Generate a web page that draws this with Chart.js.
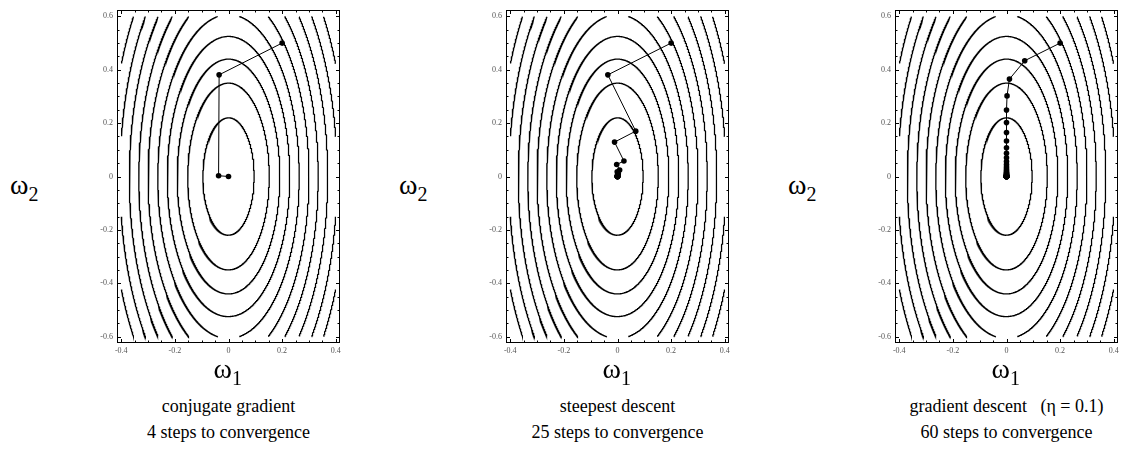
<!DOCTYPE html>
<html>
<head>
<meta charset="utf-8">
<script src="https://cdn.jsdelivr.net/npm/chart.js@4.4.1/dist/chart.umd.min.js"></script>
<style>
  body { margin: 0; width: 1145px; height: 459px; background: #fff; position: relative; overflow: hidden;
         font-family: "Liberation Serif", "Times New Roman", serif; color: #000; }
  .panel { position: absolute; top: 0; width: 283px; height: 370px; }
  .lbl { position: absolute; white-space: pre; line-height: 1; }
  .w { font-size: 28px; }
  .w sub { font-size: 20px; vertical-align: -7px; line-height: 0; }
  .cap { position: absolute; width: 320px; text-align: center; font-size: 18px; line-height: 26px; white-space: pre; }
</style>
</head>
<body>

<div class="panel" id="p0"><canvas id="c0"></canvas></div>
<div class="panel" id="p1"><canvas id="c1"></canvas></div>
<div class="panel" id="p2"><canvas id="c2"></canvas></div>

<script>
// contour lines of the error surface: value of w2 where each contour crosses w1 = 0
const contourLevels = [0.22, 0.35, 0.44, 0.525, 0.607, 0.69, 0.77, 0.851, 0.932, 1.012];
const contourAspect = 2.3;   // ratio of w2 to w1 semi-axis

const xTickValues = [-0.4, -0.2, 0, 0.2, 0.4];
const yTickValues = [-0.6, -0.4, -0.2, 0, 0.2, 0.4, 0.6];

// conjugate gradient
const cgW1 = [0.2, -0.035, -0.037, 0];
const cgW2 = [0.5, 0.381, 0.003, 0];

// steepest descent
const sdW1 = [0.2, -0.036, 0.068, -0.011, 0.024, -0.003, 0.008, -0.001, 0.003, 0, 0.001, 0, 0,
              0, 0, 0, 0, 0, 0, 0, 0, 0, 0, 0, 0, 0];
const sdW2 = [0.5, 0.381, 0.170, 0.129, 0.058, 0.045, 0.024, 0.018, 0.010, 0.007, 0.004, 0.003, 0.0015,
              0.001, 0.0006, 0.0004, 0.0002, 0.0002, 0.0001, 0.0001, 0, 0, 0, 0, 0, 0];

// gradient descent, eta = 0.1
const gdW1 = [0.2, 0.068, 0.011, 0.002, 0, 0, 0, 0, 0, 0, 0, 0, 0, 0, 0, 0, 0, 0, 0, 0,
              0, 0, 0, 0, 0, 0, 0, 0, 0, 0, 0, 0, 0, 0, 0, 0, 0, 0, 0, 0,
              0, 0, 0, 0, 0, 0, 0, 0, 0, 0, 0, 0, 0, 0, 0, 0, 0, 0, 0, 0, 0];
const gdW2 = [0.5, 0.434, 0.365, 0.302, 0.249, 0.202, 0.165, 0.133, 0.108, 0.087,
              0.070, 0.056, 0.045, 0.036, 0.029, 0.023, 0.018, 0.015, 0.012, 0.0095,
              0.0076, 0.006, 0.0049, 0.0039, 0.0031, 0.0025, 0.002, 0.0016, 0.0013, 0.001,
              0.0008, 0.0007, 0.0005, 0.0004, 0.0003, 0.0003, 0.0002, 0.0002, 0.0001, 0.0001,
              0.0001, 0, 0, 0, 0, 0, 0, 0, 0, 0, 0, 0, 0, 0, 0, 0, 0, 0, 0, 0, 0];

const panels = [
  { w1: cgW1, w2: cgW2, cap: 'conjugate gradient\n4 steps to convergence' },
  { w1: sdW1, w2: sdW2, cap: 'steepest descent\n25 steps to convergence' },
  { w1: gdW1, w2: gdW2, cap: 'gradient descent   (\u03b7 = 0.1)\n60 steps to convergence' }
];
const frameLefts = [117, 506, 895];

// contour of (aspect*w1)^2 + w2^2 = level^2, cut to the plotted region
function contour(level) {
  const pts = [];
  const n = 2400;
  for (let i = 0; i <= n; i++) {
    const t = i / n * 2 * Math.PI;
    const x = level / contourAspect * Math.cos(t);
    const y = level * Math.sin(t);
    if (Math.abs(x) > 0.4 || Math.abs(y) > 0.6) pts.push({ x: NaN, y: NaN });
    else pts.push({ x: x, y: y });
  }
  return pts;
}

const frameTicks = {
  id: 'frameTicks',
  afterDraw(chart) {
    const { ctx, chartArea: a, scales: { x, y } } = chart;
    ctx.save();
    ctx.strokeStyle = '#000';
    ctx.lineWidth = 1;
    ctx.strokeRect(a.left + 0.5, a.top + 0.5, a.right - a.left - 1, a.bottom - a.top - 1);
    ctx.beginPath();
    for (let k = -8; k <= 8; k++) {
      const px = Math.round(x.getPixelForValue(k * 0.05)) + 0.5;
      const len = k % 4 === 0 ? 4 : 2.5;
      ctx.moveTo(px, a.bottom); ctx.lineTo(px, a.bottom - len);
      ctx.moveTo(px, a.top); ctx.lineTo(px, a.top + len);
    }
    for (let k = -12; k <= 12; k++) {
      const py = Math.round(y.getPixelForValue(k * 0.05)) + 0.5;
      const len = k % 4 === 0 ? 4 : 2.5;
      ctx.moveTo(a.left, py); ctx.lineTo(a.left + len, py);
      ctx.moveTo(a.right, py); ctx.lineTo(a.right - len, py);
    }
    ctx.stroke();
    ctx.restore();
  }
};

const tickFont = { family: '"Liberation Serif", serif', size: 8 };
const fmt = v => v === 0 ? '0' : v.toFixed(1);

panels.forEach((p, i) => {
  const div = document.getElementById('p' + i);
  div.style.left = (frameLefts[i] - 30) + 'px';

  const datasets = [{
    data: p.w1.map((v, j) => ({ x: v, y: p.w2[j] })),
    showLine: true,
    borderColor: '#000',
    borderWidth: 1,
    pointRadius: 2.8,
    pointBackgroundColor: '#000',
    pointBorderWidth: 0
  }];
  contourLevels.forEach(l => datasets.push({
    data: contour(l),
    showLine: true,
    spanGaps: false,
    borderColor: '#000',
    borderWidth: 1.25,
    pointRadius: 0
  }));

  new Chart(document.getElementById('c' + i), {
    type: 'scatter',
    data: { datasets },
    options: {
      responsive: true,
      maintainAspectRatio: false,
      animation: false,
      devicePixelRatio: 1,
      layout: { padding: { left: 0, right: 30, top: 10, bottom: 7 } },
      plugins: { legend: { display: false }, tooltip: { enabled: false } },
      scales: {
        x: {
          type: 'linear', min: -0.416, max: 0.416,
          grid: { display: false, drawTicks: false },
          border: { display: false },
          afterBuildTicks: s => { s.ticks = xTickValues.map(v => ({ value: v })); },
          afterFit: s => { s.height = 20; },
          ticks: { padding: 3, font: tickFont, color: '#555', maxRotation: 0, autoSkip: false, callback: fmt }
        },
        y: {
          type: 'linear', min: -0.624, max: 0.624,
          grid: { display: false, drawTicks: false },
          border: { display: false },
          afterBuildTicks: s => { s.ticks = yTickValues.map(v => ({ value: v })); },
          afterFit: s => { s.width = 30; },
          ticks: { padding: 4, font: tickFont, color: '#555', autoSkip: false, callback: fmt }
        }
      }
    },
    plugins: [frameTicks]
  });

  const cx = frameLefts[i] + 111.5;
  const w2 = document.createElement('div');
  w2.className = 'lbl w';
  w2.innerHTML = '\u03c9<sub>2</sub>';
  w2.style.left = (frameLefts[i] - 107) + 'px';
  w2.style.top = '171px';
  document.body.appendChild(w2);

  const w1 = document.createElement('div');
  w1.className = 'lbl w';
  w1.innerHTML = '\u03c9<sub>1</sub>';
  w1.style.left = (cx - 15) + 'px';
  w1.style.top = '355px';
  document.body.appendChild(w1);

  const cap = document.createElement('div');
  cap.className = 'cap';
  cap.textContent = p.cap;
  cap.style.left = (cx - 160) + 'px';
  cap.style.top = '393px';
  document.body.appendChild(cap);
});
</script>
</body>
</html>
